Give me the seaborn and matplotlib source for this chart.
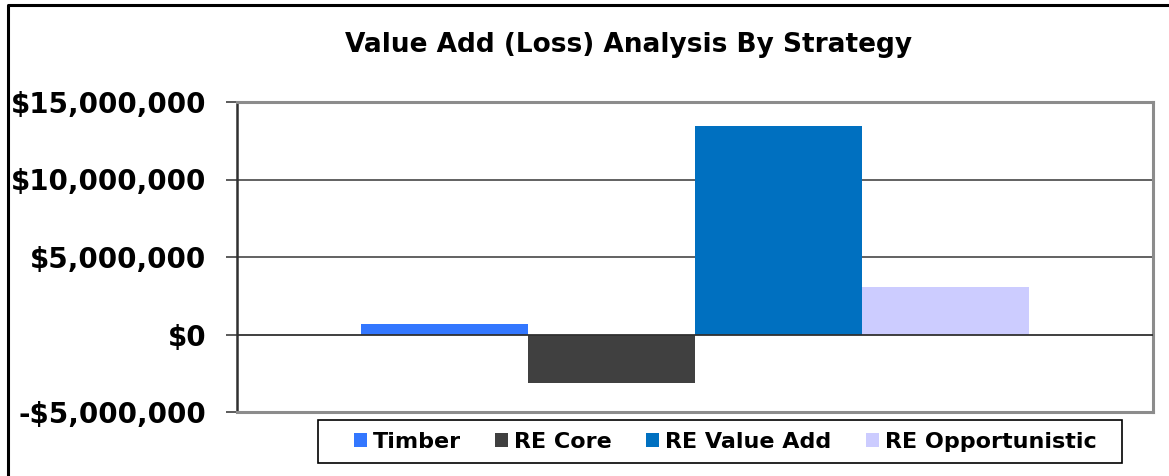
import numpy as np
import pandas as pd
import matplotlib
matplotlib.use("Agg")
import matplotlib.pyplot as plt
import matplotlib.ticker as mticker
from matplotlib.lines import Line2D
from matplotlib.patches import Rectangle
import seaborn as sns

# data
strategies = ["Timber", "RE Core", "RE Value Add", "RE Opportunistic"]
values = [650000, -3100000, 13480000, 3080000]
colors = ["#3377FF", "#404040", "#0070C0", "#CCCCFF"]
y_ticks = [-5000000, 0, 5000000, 10000000, 15000000]
title = "Value Add (Loss) Analysis By Strategy"

df = pd.DataFrame({"group": [""] * len(strategies),
                   "strategy": strategies,
                   "value": values})

sns.set_theme(style="white")
plt.rcParams["font.family"] = ["DejaVu Sans"]
plt.rcParams["text.color"] = "black"

W, H = 1169, 476
fig = plt.figure(figsize=(W / 100, H / 100), dpi=100)
ax = fig.add_axes([237 / W, 1 - 412 / H, (1153 - 237) / W, (412 - 102) / H])

sns.barplot(data=df, x="group", y="value", hue="strategy",
            hue_order=strategies, palette=colors, saturation=1,
            width=0.73, linewidth=0, ax=ax, legend=True)

ax.set_xlim(-0.5, 0.5)
ax.set_ylim(y_ticks[0], y_ticks[-1])
ax.set_yticks(y_ticks)
ax.yaxis.set_major_formatter(mticker.FuncFormatter(
    lambda v, p: f"-${abs(v):,.0f}" if v < 0 else f"${v:,.0f}"))
for lab in ax.get_yticklabels():
    lab.set_fontweight("bold")
ax.tick_params(axis="y", which="major", left=True, length=8, width=1.2,
               color="#404040", labelsize=20, pad=14, labelcolor="black")
ax.set_xticks([])
ax.set_xlabel("")
ax.set_ylabel("")

# gridlines as in Excel
for yv in y_ticks[1:-1]:
    ax.axhline(yv, color="#303030" if yv == 0 else "#555555",
               linewidth=1.3, zorder=0.5 if yv else 3)

for side in ["top", "right", "bottom"]:
    ax.spines[side].set_color("#8C8C8C")
    ax.spines[side].set_linewidth(2.2)
ax.spines["left"].set_color("#303030")
ax.spines["left"].set_linewidth(1.8)

# legend: entries without frame, box drawn separately
leg = ax.legend(loc="center", bbox_to_anchor=(725 / W, 1 - 441.5 / H),
                bbox_transform=fig.transFigure, ncol=4, frameon=False,
                prop={"weight": "bold", "size": 16},
                handlelength=0.6, handleheight=0.6, handletextpad=0.25,
                columnspacing=1.55, borderpad=0.3, borderaxespad=0)
for t in leg.get_texts():
    t.set_color("black")
fig.add_artist(Rectangle((318 / W, 1 - 463 / H), (1122 - 318) / W, 43 / H,
                         transform=fig.transFigure, fill=False,
                         edgecolor="black", linewidth=1.2))

fig.text(629 / W, 1 - 45 / H, title, ha="center", va="center",
         fontsize=19, fontweight="bold", color="black")

# outer chart border (left + top)
fig.add_artist(Line2D([8 / W, 8 / W, 1], [0, 1 - 5 / H, 1 - 5 / H],
                      transform=fig.transFigure, color="black", linewidth=2.2))

fig.savefig("out.png", dpi=100)
